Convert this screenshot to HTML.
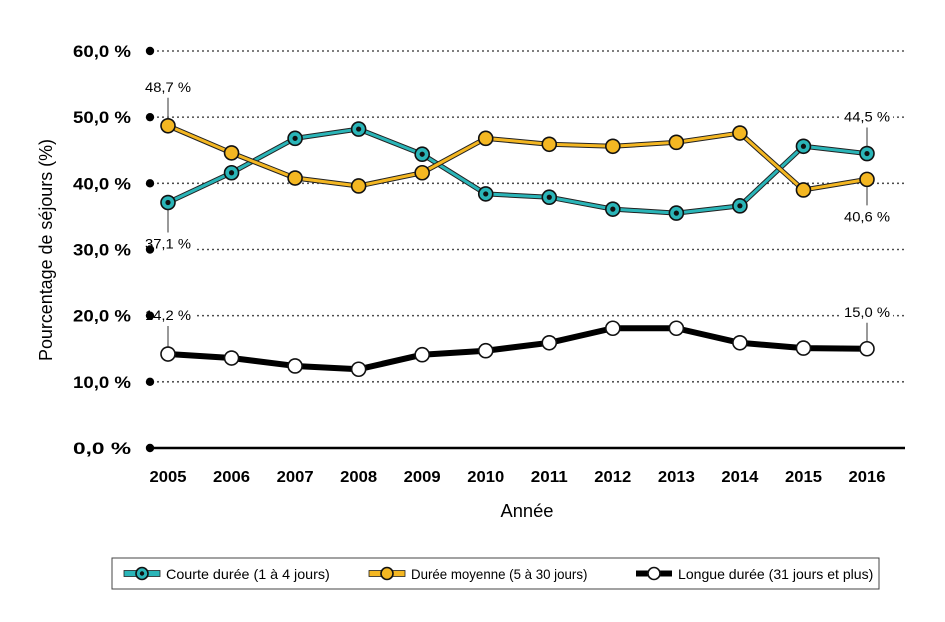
<!DOCTYPE html>
<html><head><meta charset="utf-8"><style>
body{margin:0;background:#fff;font-family:"Liberation Sans",sans-serif}
svg{display:block}
text{font-family:"Liberation Sans",sans-serif}
</style></head><body>
<svg id="c" width="945" height="622"></svg>
<script>
const years=['2005','2006','2007','2008','2009','2010','2011','2012','2013','2014','2015','2016'];
const courte=[37.1,41.6,46.8,48.2,44.4,38.4,37.9,36.1,35.5,36.6,45.6,44.5];
const moyenne=[48.7,44.6,40.8,39.6,41.6,46.8,45.9,45.6,46.2,47.6,39.0,40.6];
const longue=[14.2,13.6,12.4,11.9,14.1,14.7,15.9,18.1,18.1,15.9,15.1,15.0];
const yTicks=[0,10,20,30,40,50,60];
const yTickLabels=['0,0 %','10,0 %','20,0 %','30,0 %','40,0 %','50,0 %','60,0 %'];
const NS='http://www.w3.org/2000/svg';
const svg=document.getElementById('c');
const x=i=>168+i*(867-168)/(years.length-1);
const y=v=>448-v*(448-51)/60;
function el(t,a,p){const e=document.createElementNS(NS,t);for(const k in a)e.setAttribute(k,a[k]);(p||svg).appendChild(e);return e;}
yTicks.forEach((v,i)=>{
  const g=el('g',{});
  
  
  if(v>0) el('line',{x1:158,x2:905,y1:y(v),y2:y(v),stroke:'#222','stroke-width':1.8,'stroke-dasharray':'0 5','stroke-linecap':'round'},g);
  const t=el('text',{x:131,y:y(v)+6,'text-anchor':'end','font-size':17,'font-weight':'bold',textLength:58,lengthAdjust:'spacingAndGlyphs'});
  t.textContent=yTickLabels[i];
  
  
});
const ax=el('line',{x1:150,x2:905,y1:448,y2:448,stroke:'#000','stroke-width':2.5});


years.forEach((yr,i)=>{
  const t=el('text',{x:x(i),y:482,'text-anchor':'middle','font-size':16,'font-weight':'bold',textLength:37,lengthAdjust:'spacingAndGlyphs'});
  t.textContent=yr;
  
  
});
let t=el('text',{x:527,y:517,'text-anchor':'middle','font-size':18,textLength:53,lengthAdjust:'spacingAndGlyphs'});t.textContent='Année';


t=el('text',{x:0,y:0,'text-anchor':'middle','font-size':18,transform:'translate(52,250) rotate(-90)',textLength:222,lengthAdjust:'spacingAndGlyphs'});t.textContent='Pourcentage de séjours (%)';


function ann(i,v,dy,label){
  const g=el('g',{});
  
  
  el('line',{x1:x(i),x2:x(i),y1:y(v),y2:y(v)+dy,stroke:'#333','stroke-width':1},g);
  const ty=y(v)+dy+(dy<0?-6:16);
  el('rect',{x:x(i)-26,y:ty-13,width:52,height:17,fill:'#fff'},g);
  const tt=el('text',{x:x(i),y:ty,'text-anchor':'middle','font-size':14,textLength:46,lengthAdjust:'spacingAndGlyphs'},g);
  tt.textContent=label;
}
ann(0,moyenne[0],-28,'48,7 %');
ann(0,courte[0],30,'37,1 %');
ann(11,courte[11],-26,'44,5 %');
ann(11,moyenne[11],26,'40,6 %');
ann(0,longue[0],-28,'14,2 %');
ann(11,longue[11],-26,'15,0 %');
yTicks.forEach(v=>{
  const d=el('circle',{cx:150,cy:y(v),r:4.2,fill:'#000'});
  
  
});
function series(data,name,col,lw,fill,dot){
  const g=el('g',{});
  
  
  el('polyline',{points:data.map((v,i)=>x(i)+','+y(v)).join(' '),fill:'none',stroke:col==='#000'?'#000':'#222','stroke-width':lw+2,'stroke-linejoin':'round'},g);
  el('polyline',{points:data.map((v,i)=>x(i)+','+y(v)).join(' '),fill:'none',stroke:col,'stroke-width':lw,'stroke-linejoin':'round'},g);
  data.forEach((v,i)=>{
    const c=el('circle',{cx:x(i),cy:y(v),r:7,fill:fill,stroke:'#111','stroke-width':1.6},g);
    
    
    if(dot) el('circle',{cx:x(i),cy:y(v),r:2.6,fill:'#111'},g);
  });
}
series(courte,'series-courte-duree','#2ab5b8',3,'#2ab5b8',true);
series(moyenne,'series-duree-moyenne','#f4b722',3,'#f4b722',false);
series(longue,'series-longue-duree','#000',4,'#fff',false);
const lg=el('g',{});


el('rect',{x:112,y:558,width:767,height:31,fill:'#fff',stroke:'#444','stroke-width':1},lg);
const items=[['Courte durée (1 à 4 jours)','#2ab5b8','#2ab5b8',true,128],['Durée moyenne (5 à 30 jours)','#f4b722','#f4b722',false,373],['Longue durée (31 jours et plus)','#000','#fff',false,640]];
items.forEach(([lab,col,fill,dot,lx])=>{
  const g=el('g',{},lg);
  
  
  el('rect',{x:lx-4,y:570.5,width:36,height:6,fill:col,stroke:col==='#000'?'none':'#222','stroke-width':0.8},g);
  el('circle',{cx:lx+14,cy:573.5,r:6,fill:fill,stroke:'#111','stroke-width':1.6},g);
  if(dot) el('circle',{cx:lx+14,cy:573.5,r:2.2,fill:'#111'},g);
  const tt=el('text',{x:lx+38,y:579,'font-size':14},g);
  tt.textContent=lab;
  tt.setAttribute('textLength',lab.length*6.3);
  tt.setAttribute('lengthAdjust','spacingAndGlyphs');
});
</script>
</body></html>
